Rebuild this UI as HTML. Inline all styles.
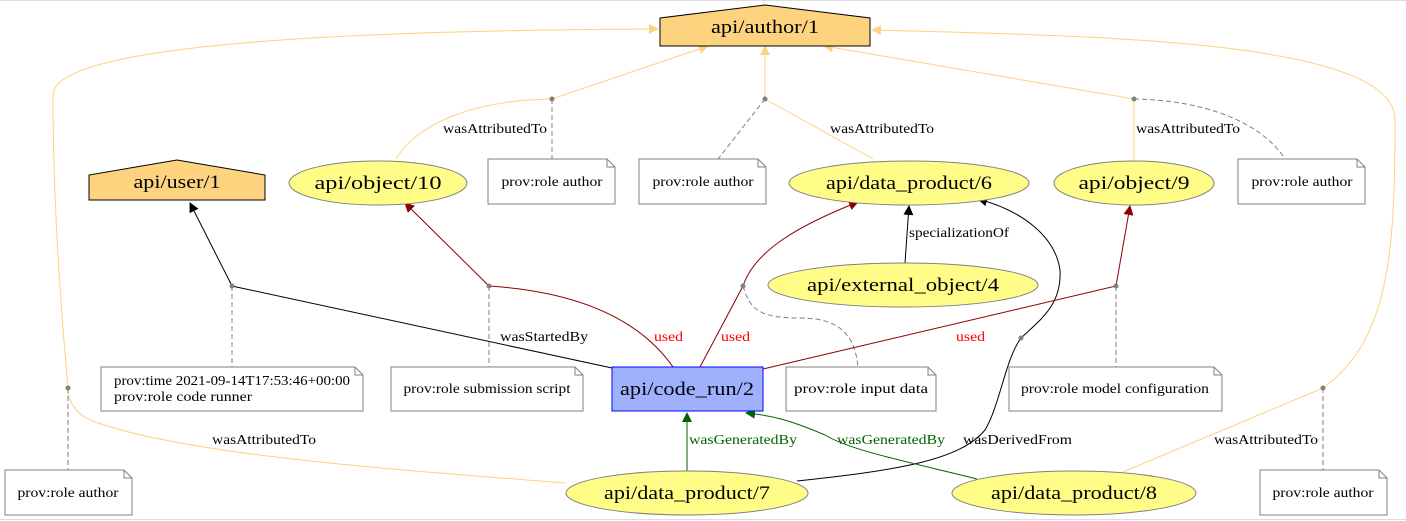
<!DOCTYPE html>
<html><head><meta charset="utf-8"><style>
html,body{margin:0;padding:0;background:#fff;}
svg{display:block;font-family:"Liberation Serif","DejaVu Serif",serif;}
</style></head><body>
<svg width="1406" height="521" viewBox="0 0 1406 521" xmlns="http://www.w3.org/2000/svg">
<defs>
<marker id="ay" markerWidth="10" markerHeight="10" refX="9" refY="5" orient="auto" markerUnits="userSpaceOnUse"><path d="M0,0 L10,5 L0,10 z" fill="#fed37f"/></marker>
<marker id="ab" markerWidth="10" markerHeight="10" refX="9" refY="5" orient="auto" markerUnits="userSpaceOnUse"><path d="M0,0 L10,5 L0,10 z" fill="#000"/></marker>
<marker id="ar" markerWidth="10" markerHeight="10" refX="9" refY="5" orient="auto" markerUnits="userSpaceOnUse"><path d="M0,0 L10,5 L0,10 z" fill="#8b0000"/></marker>
<marker id="ag" markerWidth="10" markerHeight="10" refX="9" refY="5" orient="auto" markerUnits="userSpaceOnUse"><path d="M0,0 L10,5 L0,10 z" fill="#006400"/></marker>
</defs>
<line x1="0" y1="0.5" x2="1406" y2="0.5" stroke="#ddd"/>
<line x1="0" y1="519.5" x2="1406" y2="519.5" stroke="#ddd"/>

<g fill="none" stroke-width="1">
<path d="M396,159 C420,120 480,100 552,99 L708,46" stroke="#fed37f" marker-end="url(#ay)"/>
<path d="M873,159 L765,99 L765,46" stroke="#fed37f" marker-end="url(#ay)"/>
<path d="M1134,161 L1134,99 L824,46" stroke="#fed37f" marker-end="url(#ay)"/>
<path d="M566,483 C400,470 180,455 90,420 C70,410 68,395 68,388 C60,300 53,200 53,95 C53,40 400,30 658,29" stroke="#fed37f" marker-end="url(#ay)"/>
<path d="M1123,472 L1323,388 C1390,340 1395,250 1395,120 C1395,40 1100,36 872,30" stroke="#fed37f" marker-end="url(#ay)"/>
<path d="M552,99 L552,159" stroke="#808080" stroke-dasharray="5,3"/>
<path d="M765,99 L718,159" stroke="#808080" stroke-dasharray="5,3"/>
<path d="M1134,99 C1200,100 1260,120 1285,159" stroke="#808080" stroke-dasharray="5,3"/>
<path d="M232,286 L232,367" stroke="#808080" stroke-dasharray="5,3"/>
<path d="M489,286 L489,367" stroke="#808080" stroke-dasharray="5,3"/>
<path d="M743,286 C750,310 760,318 800,318 C845,318 855,340 858,367" stroke="#808080" stroke-dasharray="5,3"/>
<path d="M1116,286 L1116,367" stroke="#808080" stroke-dasharray="5,3"/>
<path d="M68,388 L68,470" stroke="#808080" stroke-dasharray="5,3"/>
<path d="M1323,388 L1323,470" stroke="#808080" stroke-dasharray="5,3"/>
<path d="M612,368 L232,286 L190,203" stroke="#000" marker-end="url(#ab)"/>
<path d="M905,263 L909,206" stroke="#000" marker-end="url(#ab)"/>
<path d="M797,481 C900,470 960,460 985,430 C1000,405 1005,360 1021,338 C1040,320 1062,305 1060,270 C1055,235 1020,210 978,199" stroke="#000" marker-end="url(#ab)"/>
<path d="M673,367 C640,320 580,292 489,286 L405,203" stroke="#8b0000" marker-end="url(#ar)"/>
<path d="M700,367 L743,286 C755,250 800,225 858,202" stroke="#8b0000" marker-end="url(#ar)"/>
<path d="M763,369 L1116,286 L1130,206" stroke="#8b0000" marker-end="url(#ar)"/>
<path d="M687,471 L687,413" stroke="#006400" marker-end="url(#ag)"/>
<path d="M977,479 C900,460 850,450 825,435 C790,420 770,415 746,413" stroke="#006400" marker-end="url(#ag)"/>
</g>
<g fill="#808080">
<circle cx="552" cy="99" r="2.5"/><circle cx="765" cy="99" r="2.5"/><circle cx="1134" cy="99" r="2.5"/>
<circle cx="232" cy="286" r="2.5"/><circle cx="489" cy="286" r="2.5"/><circle cx="743" cy="286" r="2.5"/>
<circle cx="1116" cy="286" r="2.5"/><circle cx="1021" cy="338" r="2.5"/><circle cx="68" cy="388" r="2.5"/><circle cx="1323" cy="388" r="2.5"/>
</g>

<polygon points="660,46 660,18 765,5 870,18 870,46" fill="#fed37f" stroke="#000"/>
<polygon points="89,200 89,175 177,160 265,175 265,200" fill="#fed37f" stroke="#000"/>

<g stroke="#808080" fill="#fffc87">
<ellipse cx="378" cy="183" rx="89" ry="22"/>
<ellipse cx="909" cy="183" rx="120" ry="22"/>
<ellipse cx="1134" cy="183" rx="80" ry="22"/>
<ellipse cx="903" cy="285" rx="135" ry="22"/>
<ellipse cx="687" cy="493" rx="121" ry="22"/>
<ellipse cx="1074" cy="493" rx="122" ry="22"/>
</g>
<rect x="612" y="367" width="151" height="44" fill="#9fb1fc" stroke="#0000ff"/>

<g font-size="19" text-anchor="middle" lengthAdjust="spacingAndGlyphs">
<text x="765" y="33" textLength="108" lengthAdjust="spacingAndGlyphs">api/author/1</text>
<text x="177" y="188" textLength="87" lengthAdjust="spacingAndGlyphs">api/user/1</text>
<text x="378" y="189" textLength="127" lengthAdjust="spacingAndGlyphs">api/object/10</text>
<text x="909" y="189" textLength="166" lengthAdjust="spacingAndGlyphs">api/data_product/6</text>
<text x="1134" y="189" textLength="111" lengthAdjust="spacingAndGlyphs">api/object/9</text>
<text x="903" y="291" textLength="192" lengthAdjust="spacingAndGlyphs">api/external_object/4</text>
<text x="687" y="499" textLength="166" lengthAdjust="spacingAndGlyphs">api/data_product/7</text>
<text x="1074" y="499" textLength="166" lengthAdjust="spacingAndGlyphs">api/data_product/8</text>
<text x="687" y="395" textLength="134" lengthAdjust="spacingAndGlyphs">api/code_run/2</text>
</g>

<g fill="#fff" stroke="#808080">
<path d="M488,159 H607 L615,167 V204 H488 Z M607,159 V167 H615"/>
<path d="M639,159 H758 L766,167 V204 H639 Z M758,159 V167 H766"/>
<path d="M1238,159 H1357 L1365,167 V204 H1238 Z M1357,159 V167 H1365"/>
<path d="M101,367 H355 L363,375 V411 H101 Z M355,367 V375 H363"/>
<path d="M391,367 H575 L583,375 V411 H391 Z M575,367 V375 H583"/>
<path d="M786,367 H928 L936,375 V411 H786 Z M928,367 V375 H936"/>
<path d="M1009,367 H1214 L1222,375 V411 H1009 Z M1214,367 V375 H1222"/>
<path d="M5,470 H124 L132,478 V515 H5 Z M124,470 V478 H132"/>
<path d="M1260,470 H1379 L1387,478 V515 H1260 Z M1379,470 V478 H1387"/>
</g>
<g font-size="13.5">
<text x="552" y="186" text-anchor="middle" textLength="101" lengthAdjust="spacingAndGlyphs">prov:role author</text>
<text x="703" y="186" text-anchor="middle" textLength="101" lengthAdjust="spacingAndGlyphs">prov:role author</text>
<text x="1302" y="186" text-anchor="middle" textLength="101" lengthAdjust="spacingAndGlyphs">prov:role author</text>
<text x="114" y="385" textLength="236" lengthAdjust="spacingAndGlyphs">prov:time 2021-09-14T17:53:46+00:00</text>
<text x="114" y="401" textLength="138" lengthAdjust="spacingAndGlyphs">prov:role  code runner</text>
<text x="487" y="393" text-anchor="middle" textLength="167" lengthAdjust="spacingAndGlyphs">prov:role submission script</text>
<text x="861" y="393" text-anchor="middle" textLength="134" lengthAdjust="spacingAndGlyphs">prov:role input data</text>
<text x="1115" y="393" text-anchor="middle" textLength="188" lengthAdjust="spacingAndGlyphs">prov:role model configuration</text>
<text x="68" y="497" text-anchor="middle" textLength="101" lengthAdjust="spacingAndGlyphs">prov:role author</text>
<text x="1323" y="497" text-anchor="middle" textLength="101" lengthAdjust="spacingAndGlyphs">prov:role author</text>
</g>
<g font-size="13.5">
<text x="443" y="133" textLength="104" lengthAdjust="spacingAndGlyphs">wasAttributedTo</text>
<text x="830" y="133" textLength="104" lengthAdjust="spacingAndGlyphs">wasAttributedTo</text>
<text x="1136" y="133" textLength="104" lengthAdjust="spacingAndGlyphs">wasAttributedTo</text>
<text x="212" y="444" textLength="104" lengthAdjust="spacingAndGlyphs">wasAttributedTo</text>
<text x="1214" y="444" textLength="104" lengthAdjust="spacingAndGlyphs">wasAttributedTo</text>
<text x="500" y="341" textLength="88" lengthAdjust="spacingAndGlyphs">wasStartedBy</text>
<text x="909" y="237" textLength="100" lengthAdjust="spacingAndGlyphs">specializationOf</text>
<text x="963" y="444" textLength="109" lengthAdjust="spacingAndGlyphs">wasDerivedFrom</text>
<text x="654" y="341" fill="#ff0000" textLength="29" lengthAdjust="spacingAndGlyphs">used</text>
<text x="721" y="341" fill="#ff0000" textLength="29" lengthAdjust="spacingAndGlyphs">used</text>
<text x="956" y="341" fill="#ff0000" textLength="29" lengthAdjust="spacingAndGlyphs">used</text>
<text x="689" y="444" fill="#006400" textLength="108" lengthAdjust="spacingAndGlyphs">wasGeneratedBy</text>
<text x="837" y="444" fill="#006400" textLength="108" lengthAdjust="spacingAndGlyphs">wasGeneratedBy</text>
</g>
</svg>
</body></html>
